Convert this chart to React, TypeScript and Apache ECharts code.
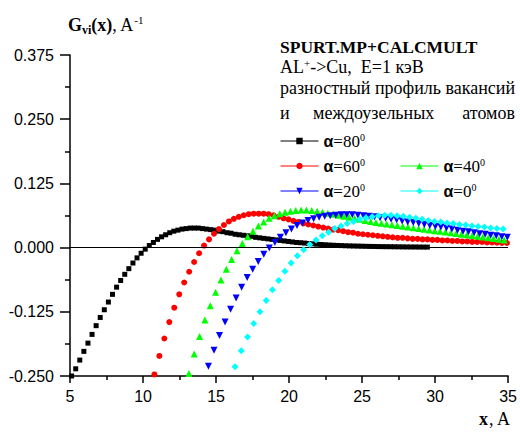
import React, { useEffect, useRef } from "react";
import * as echarts from "echarts";

// ---- data ----
const SERIES_NAMES = ["α=80", "α=60", "α=40", "α=20", "α=0"];
// each curve is sampled on an even grid of depth x (first point, spacing), in Å
const X_START = [5.11, 10.78, 13.14, 14.48, 16.3];
const X_STEP = [0.28, 0.34, 0.366, 0.379, 0.427];

const Y_A80 = [
  -0.25, -0.236, -0.219, -0.202, -0.186, -0.169, -0.152, -0.136, -0.121, -0.106,
  -0.091, -0.077, -0.064, -0.052, -0.041, -0.03, -0.02, -0.011, -0.003, 0.004,
  0.01, 0.016, 0.021, 0.025, 0.029, 0.032, 0.034, 0.036, 0.037, 0.038,
  0.038, 0.038, 0.037, 0.036, 0.035, 0.034, 0.032, 0.031, 0.029, 0.028,
  0.026, 0.025, 0.024, 0.023, 0.022, 0.02, 0.019, 0.018, 0.017, 0.016,
  0.015, 0.014, 0.013, 0.012, 0.011, 0.01, 0.0095, 0.0088, 0.008, 0.0073,
  0.0066, 0.006, 0.0055, 0.005, 0.0046, 0.0042, 0.0039, 0.0036, 0.0033, 0.0031,
  0.0029, 0.0027, 0.0025, 0.0023, 0.0022, 0.002, 0.0019, 0.0018, 0.0017, 0.0016,
  0.0015, 0.0014, 0.0013, 0.0012, 0.0012, 0.0011, 0.001, 0.001,
];
const Y_A60 = [
  -0.247, -0.211, -0.177, -0.145, -0.117, -0.091, -0.068, -0.047, -0.028, -0.011,
  0.004, 0.016, 0.027, 0.036, 0.044, 0.051, 0.056, 0.06, 0.063, 0.065,
  0.066, 0.066, 0.066, 0.065, 0.063, 0.06, 0.057, 0.055, 0.052, 0.05,
  0.047, 0.045, 0.043, 0.041, 0.039, 0.037, 0.035, 0.034, 0.032, 0.03,
  0.029, 0.027, 0.026, 0.025, 0.024, 0.023, 0.022, 0.021, 0.02, 0.019,
  0.019, 0.018, 0.017, 0.017, 0.016, 0.016, 0.015, 0.015, 0.014, 0.014,
  0.013, 0.013, 0.012, 0.012, 0.011, 0.011, 0.011, 0.01, 0.01, 0.0095,
  0.0092, 0.009,
];
const Y_A40 = [
  -0.245, -0.207, -0.173, -0.141, -0.113, -0.087, -0.063, -0.042, -0.023, -0.006,
  0.008, 0.021, 0.032, 0.042, 0.05, 0.057, 0.062, 0.066, 0.069, 0.071,
  0.072, 0.073, 0.073, 0.072, 0.071, 0.069, 0.067, 0.065, 0.063, 0.061,
  0.059, 0.057, 0.055, 0.053, 0.051, 0.049, 0.0475, 0.046, 0.0445, 0.043,
  0.0415, 0.04, 0.0385, 0.037, 0.0357, 0.0343, 0.033, 0.0317, 0.0303, 0.029,
  0.0276, 0.0262, 0.0248, 0.0234, 0.022, 0.0206, 0.0192, 0.0178, 0.0164, 0.015,
];
const Y_A20 = [
  -0.231, -0.2, -0.171, -0.145, -0.12, -0.098, -0.077, -0.058, -0.042, -0.027,
  -0.013, -0.001, 0.01, 0.02, 0.029, 0.036, 0.043, 0.048, 0.053, 0.056,
  0.059, 0.061, 0.062, 0.063, 0.064, 0.064, 0.064, 0.063, 0.062, 0.061,
  0.06, 0.058, 0.057, 0.055, 0.054, 0.052, 0.05, 0.049, 0.047, 0.045,
  0.043, 0.041, 0.04, 0.038, 0.036, 0.034, 0.032, 0.031, 0.029, 0.027,
  0.026, 0.024, 0.023, 0.021, 0.02,
];
const Y_A0 = [
  -0.232, -0.201, -0.174, -0.148, -0.125, -0.103, -0.082, -0.064, -0.046, -0.03,
  -0.016, -0.004, 0.006, 0.015, 0.023, 0.03, 0.037, 0.042, 0.047, 0.051,
  0.055, 0.058, 0.06, 0.062, 0.063, 0.063, 0.062, 0.061, 0.059, 0.057,
  0.055, 0.053, 0.051, 0.05, 0.048, 0.047, 0.045, 0.044, 0.042, 0.041,
  0.04, 0.038, 0.037, 0.036,
];

const X_MIN = 5;
const X_MAX = 35;
const X_INTERVAL = 5;
const Y_MIN = -0.25;
const Y_MAX = 0.375;
const Y_INTERVAL = 0.125;

const TITLE_1 = "SPURT.MP+CALCMULT";
const TITLE_2A = "AL";
const TITLE_2B = "->Cu,  E=1 кэВ";
const TITLE_3 = "разностный профиль вакансий";
const TITLE_4 = ["и", "междоузельных", "атомов"];

// ---- styles ----
const COLORS = ["#000000", "#ff0000", "#00ff00", "#0000ff", "#00ffff"];
const SYMBOLS = ["rect", "circle", "triangle", "path://M0,0L10,0L5,9Z", "diamond"];
const SIZES = [5, 6, 7, 7, 7];
const SERIF = "'Liberation Serif', 'Times New Roman', serif";
const SANS = "'Liberation Sans', Arial, sans-serif";

export default function App() {
  const ref = useRef<HTMLDivElement>(null);

  useEffect(() => {
    if (!ref.current) return;
    const chart = echarts.init(ref.current, undefined, { renderer: "svg" });
    const yAll = [Y_A80, Y_A60, Y_A40, Y_A20, Y_A0];

    const series: any[] = SERIES_NAMES.map((name, k) => ({
      type: "line",
      name,
      data: yAll[k].map((y, i) => [X_START[k] + X_STEP[k] * i, y]),
      symbol: SYMBOLS[k],
      symbolSize: SIZES[k],
      showSymbol: true,
      showAllSymbol: true,
      lineStyle: { width: 0, opacity: 0 },
      itemStyle: { color: COLORS[k], borderWidth: 0 },
      emphasis: { disabled: true },
      z: 3 + k,
    }));
    series[0].markLine = {
      silent: true,
      symbol: "none",
      label: { show: false },
      lineStyle: { color: "#000", width: 1, type: "solid" },
      data: [{ yAxis: 0 }],
    };

    const legendRich = {
      a: { fontFamily: SANS, fontWeight: "bold", fontSize: 16, lineHeight: 18, color: "#000" },
      n: { fontFamily: SERIF, fontSize: 17, lineHeight: 18, color: "#000" },
      s: { fontFamily: SERIF, fontSize: 10, lineHeight: 10, verticalAlign: "top", color: "#000" },
    };
    const legendPos = [
      { left: 280, top: 132 },
      { left: 280, top: 157 },
      { left: 400, top: 157 },
      { left: 280, top: 182 },
      { left: 400, top: 182 },
    ];
    const legends = SERIES_NAMES.map((name, k) => ({
      data: [name],
      ...legendPos[k],
      orient: "horizontal",
      padding: 0,
      itemGap: 0,
      itemWidth: 38,
      itemHeight: 8,
      selectedMode: false,
      formatter: (n: string) => `{a|α}{n|${n.slice(1)}}{s|0}`,
      textStyle: { rich: legendRich },
      lineStyle: { width: 1, opacity: 1, color: "inherit", type: "solid" },
      itemStyle: { borderWidth: 0 },
    }));

    const axisCommon = {
      type: "value",
      axisLine: { show: true, onZero: false, lineStyle: { color: "#000", width: 1.5 } },
      splitLine: { show: false },
      minorSplitLine: { show: false },
    };

    chart.setOption({
      animation: false,
      backgroundColor: "#ffffff",
      grid: { left: 70, right: 10, top: 55, bottom: 60, containLabel: false },
      legend: legends,
      xAxis: {
        ...axisCommon,
        min: X_MIN,
        max: X_MAX,
        interval: X_INTERVAL,
        axisTick: { show: true, length: 7, lineStyle: { color: "#000", width: 1.5 } },
        minorTick: { show: true, splitNumber: 2, length: 4, lineStyle: { color: "#000", width: 1.5 } },
        axisLabel: { fontFamily: SANS, fontSize: 16, color: "#000", margin: 12 },
      },
      yAxis: {
        ...axisCommon,
        min: Y_MIN,
        max: Y_MAX,
        interval: Y_INTERVAL,
        axisTick: { show: true, length: 10, lineStyle: { color: "#000", width: 1.5 } },
        minorTick: { show: true, splitNumber: 2, length: 5, lineStyle: { color: "#000", width: 1.5 } },
        axisLabel: {
          fontFamily: SANS,
          fontSize: 16,
          color: "#000",
          margin: 16,
          formatter: (v: number) => v.toFixed(3),
        },
      },
      graphic: [
        {
          type: "text",
          style: {
            x: 68,
            y: 25,
            text: "{b|G}{bs|vi}{b|(x)}{n|, A}{s|-1}",
            align: "left",
            textAlign: "left",
            verticalAlign: "middle",
            textVerticalAlign: "middle",
            rich: {
              b: { fontFamily: SERIF, fontWeight: "bold", fontSize: 18, lineHeight: 22, fill: "#000" },
              bs: { fontFamily: SERIF, fontWeight: "bold", fontSize: 12, lineHeight: 12, verticalAlign: "bottom", fill: "#000" },
              n: { fontFamily: SERIF, fontSize: 18, lineHeight: 22, fill: "#000" },
              s: { fontFamily: SERIF, fontSize: 11, lineHeight: 11, verticalAlign: "top", fill: "#000" },
            },
          },
        },
        {
          type: "text",
          style: {
            x: 510,
            y: 419,
            text: "{b|x}{n|, A}",
            align: "right",
            textAlign: "right",
            verticalAlign: "middle",
            textVerticalAlign: "middle",
            rich: {
              b: { fontFamily: SERIF, fontWeight: "bold", fontSize: 18, lineHeight: 22, fill: "#000" },
              n: { fontFamily: SERIF, fontSize: 18, lineHeight: 22, fill: "#000" },
            },
          },
        },
        {
          type: "text",
          style: {
            x: 280, y: 47, text: TITLE_1, fill: "#000",
            font: `bold 17.5px ${SERIF}`,
            verticalAlign: "middle", textVerticalAlign: "middle",
          },
        },
        {
          type: "text",
          style: {
            x: 280, y: 67,
            text: `{n|${TITLE_2A}}{s|+}{n|${TITLE_2B}}`,
            verticalAlign: "middle", textVerticalAlign: "middle",
            rich: {
              n: { fontFamily: SERIF, fontSize: 18, lineHeight: 20, fill: "#000" },
              s: { fontFamily: SERIF, fontSize: 11, lineHeight: 11, verticalAlign: "top", fill: "#000" },
            },
          },
        },
        {
          type: "text",
          style: {
            x: 280, y: 88, text: TITLE_3, fill: "#000",
            font: `18px ${SERIF}`,
            verticalAlign: "middle", textVerticalAlign: "middle",
          },
        },
        {
          type: "text",
          style: {
            x: 280, y: 113, text: TITLE_4[0], fill: "#000",
            font: `18px ${SERIF}`,
            verticalAlign: "middle", textVerticalAlign: "middle",
          },
        },
        {
          type: "text",
          style: {
            x: 313, y: 113, text: TITLE_4[1], fill: "#000",
            font: `18px ${SERIF}`,
            verticalAlign: "middle", textVerticalAlign: "middle",
          },
        },
        {
          type: "text",
          style: {
            x: 515, y: 113, text: TITLE_4[2], fill: "#000",
            font: `18px ${SERIF}`,
            align: "right", textAlign: "right",
            verticalAlign: "middle", textVerticalAlign: "middle",
          },
        },
      ],
      series,
    });

    return () => chart.dispose();
  }, []);

  return (
    <div
      ref={ref}
      style={{ position: "fixed", left: 0, top: 0, width: 520, height: 436, background: "#fff" }}
    />
  );
}
